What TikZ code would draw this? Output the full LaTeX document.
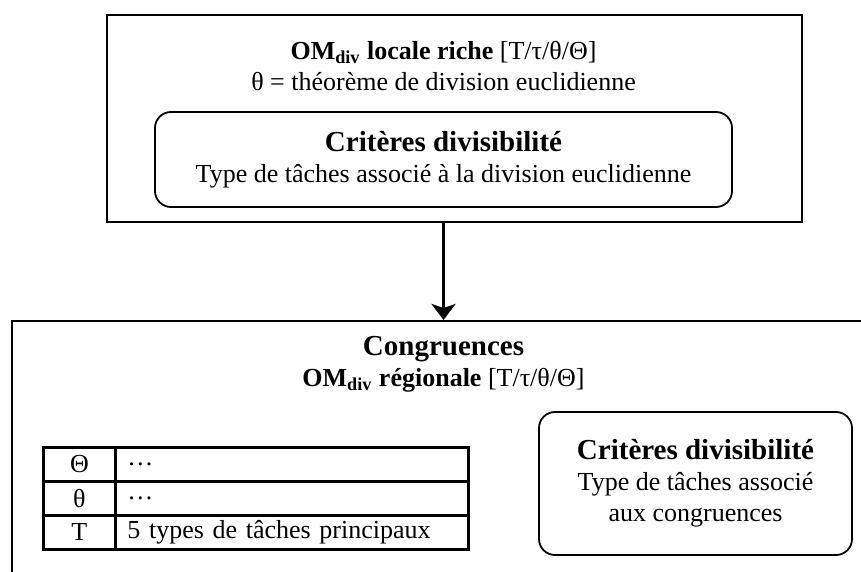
\documentclass[tikz,border=0pt]{standalone}
\usepackage{fontspec}
\setmainfont{Liberation Serif}
\usetikzlibrary{arrows.meta,positioning}

\begin{document}
\begin{tikzpicture}
[
  x=0.5pt,
  y=-0.5pt,
  every node/.style={font=\fontsize{13}{15.5}\selectfont},
  frame/.style={draw,line width=0.7pt,inner sep=0pt},
  roundbox/.style={draw,rounded corners=8pt,line width=0.9pt,align=center,inner sep=0pt},
  cell/.style={draw,line width=1.4pt,minimum height=17pt,inner sep=0pt,anchor=north west},
  arr/.style={-{Stealth[length=8pt,width=12pt,inset=2pt]},line width=1.6pt}
]

% Page
\useasboundingbox (0,0) rectangle (861,572);
\clip (0,0) rectangle (861,572);

% Top box
\node[frame,minimum width=347.5pt,minimum height=103.5pt] (locale) at (454.5,118.5) {};
\node[align=center] (localetitle) at (443.5,66)
  {\textbf{OM\textsubscript{div} locale riche} [T/τ/θ/Θ]\\θ = théorème de division euclidienne};
\node[roundbox,minimum width=288.5pt,minimum height=47.5pt] (critA) at (443.5,159.5)
  {{\fontsize{14.5}{17}\selectfont\bfseries Critères divisibilité}\\Type de tâches associé à la division euclidienne};

% Bottom box
\node[frame,line width=0.9pt,minimum width=450pt,minimum height=150pt,anchor=north west] (regio) at (11,320) {};
\node[align=center] (regiotitle) at (443.5,364)
  {{\fontsize{14.5}{17}\selectfont\bfseries Congruences}\\\textbf{OM\textsubscript{div} régionale} [T/τ/θ/Θ]};

% Arrow
\draw[arr] (critA.south |- locale.south) -- (critA.south |- regio.north);

% Table
\foreach \i/\k/\v in {0/Θ/\ldots, 1/θ/\ldots, 2/T/5 types de tâches principaux} {
  \node[cell,minimum width=36pt] (key\i) at (42,446+34*\i) {\k};
  \node[cell,text width=164.5pt,align=left,inner xsep=6pt] (val\i) at (114,446+34*\i) {\v};
}

% Right box
\node[roundbox,minimum width=156.5pt,minimum height=71.5pt] (critB) at (695.5,483.5)
  {{\fontsize{14.5}{17}\selectfont\bfseries Critères divisibilité}\\Type de tâches associé\\aux congruences};

\end{tikzpicture}
\end{document}
